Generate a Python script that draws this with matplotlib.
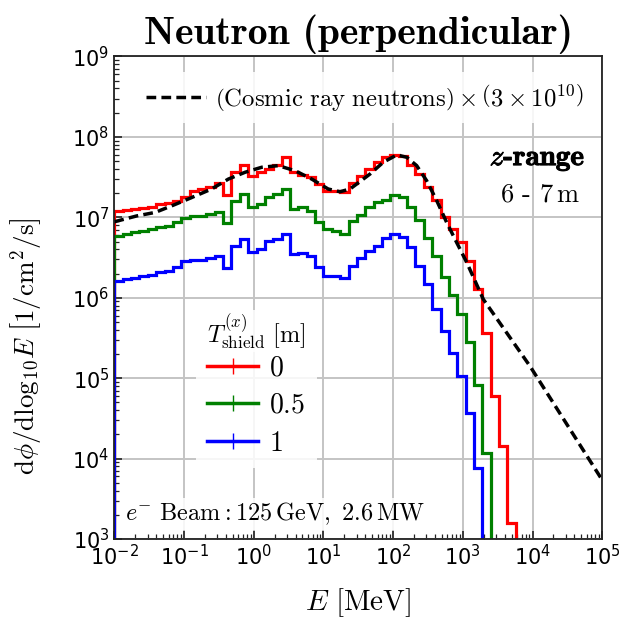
import numpy as np
import matplotlib.pyplot as plt
import matplotlib.patheffects as pe
from matplotlib.lines import Line2D
from matplotlib.font_manager import FontProperties

# log-spaced energy bins [MeV]
edges = np.logspace(-2, 4, 51)

# flux per bin, 1/cm^2/s (0 = empty bin)
flux_t0 = [1.21e7, 1.23e7, 1.27e7, 1.32e7, 1.36e7, 1.46e7, 1.50e7, 1.61e7, 1.77e7, 2.14e7,
           2.25e7, 2.38e7, 2.67e7, 1.89e7, 3.63e7, 4.48e7, 3.29e7, 3.63e7, 3.99e7, 4.48e7,
           5.58e7, 3.63e7, 3.36e7, 3.15e7, 2.59e7, 2.14e7, 2.14e7, 2.04e7, 2.67e7, 3.27e7,
           3.99e7, 4.84e7, 5.58e7, 5.97e7, 5.85e7, 4.48e7, 3.46e7, 2.41e7, 1.62e7, 1.02e7,
           7.13e6, 4.91e6, 2.87e6, 1.27e6, 3.67e5, 5.95e4, 1.42e4, 1.60e3, 0, 0]
flux_t05 = [5.88e6, 6.17e6, 6.48e6, 6.73e6, 7.13e6, 7.55e6, 7.84e6, 8.63e6, 9.77e6, 1.04e7,
            1.04e7, 1.10e7, 1.18e7, 8.47e6, 1.61e7, 1.95e7, 1.33e7, 1.46e7, 1.81e7, 1.95e7,
            2.25e7, 1.27e7, 1.33e7, 1.21e7, 8.63e6, 7.13e6, 6.79e6, 6.27e6, 8.97e6, 1.08e7,
            1.33e7, 1.53e7, 1.66e7, 1.87e7, 1.81e7, 1.36e7, 9.23e6, 5.61e6, 3.33e6, 1.82e6,
            1.07e6, 6.21e5, 2.82e5, 8.32e4, 1.17e4, 0, 0, 0, 0, 0]
flux_t1 = [1.62e6, 1.69e6, 1.78e6, 1.85e6, 1.90e6, 2.07e6, 2.15e6, 2.39e6, 2.84e6, 2.93e6,
           2.93e6, 3.10e6, 3.28e6, 2.33e6, 4.41e6, 5.42e6, 3.68e6, 4.07e6, 5.09e6, 5.42e6,
           6.27e6, 3.48e6, 3.65e6, 3.31e6, 2.43e6, 1.87e6, 1.87e6, 1.78e6, 2.48e6, 3.16e6,
           3.82e6, 4.41e6, 5.46e6, 6.18e6, 5.66e6, 4.22e6, 2.50e6, 1.47e6, 7.16e5, 3.84e5,
           2.07e5, 1.06e5, 3.72e4, 7.62e3, 0, 0, 0, 0, 0, 0]

# cosmic ray neutron spectrum (x 3e10)
cr_E = [0.01, 0.0209, 0.0384, 0.0667, 0.115, 0.249, 0.433, 0.75, 1.30, 2.25, 3.92, 6.79,
        11.7, 17.3, 24.1, 46.7, 72.3, 113, 157, 218, 303, 423, 587, 817, 1140, 1970,
        9200, 9.29e4, 1e5]
cr_flux = [8.8e6, 1.04e7, 1.15e7, 1.39e7, 1.69e7, 2.25e7, 2.99e7, 3.63e7, 4.19e7, 4.39e7,
           3.80e7, 2.99e7, 2.25e7, 2.08e7, 2.25e7, 3.46e7, 4.84e7, 5.97e7, 5.58e7, 4.39e7,
           2.85e7, 1.61e7, 8.63e6, 4.86e6, 2.74e6, 9.55e5, 1.41e5, 5.98e3, 5.5e3]

labels = ['$0$', '$0.5$', '$1$']
colors = ['red', 'green', 'blue']

plt.rcParams['mathtext.fontset'] = 'dejavusans'
plt.rcParams['xtick.labelsize'] = 15
plt.rcParams['ytick.labelsize'] = 15

fig = plt.figure(figsize=(6.2, 6.24), dpi=100)
ax = fig.add_axes([0.1844, 0.1362, 0.7869, 0.7733])

handles = []
for vals, c, lab in zip([flux_t0, flux_t05, flux_t1], colors, labels):
    v = np.array(vals, dtype=float)
    v = np.where(v > 0, v, 1e-1)
    ax.stairs(v, edges, baseline=1e-1, color=c, lw=2.3)
    handles.append(Line2D([], [], color=c, lw=2.5, marker='|', ms=11, mew=1.0, label=lab))

cr_line, = ax.plot(cr_E, cr_flux, color='black', ls=(0, (2.8, 1.5)), lw=2.5,
                   label=r'$\left(\mathrm{Cosmic\ ray\ neutrons}\right)\times\left(3\times10^{10}\right)$')

ax.set_xscale('log')
ax.set_yscale('log')
ax.set_xlim(1e-2, 1e5)
ax.set_ylim(1e3, 1e9)

ax.grid(which='major', color='#c4c4c4', lw=1.4)
ax.set_axisbelow(True)
for s in ax.spines.values():
    s.set_linewidth(1.3)
    s.set_color('#222222')
ax.tick_params(which='both', direction='in', top=False, right=False, color='#222222')
ax.tick_params(which='major', length=6, width=1.2)
ax.tick_params(which='minor', length=3.5, width=0.9)

ax.set_title('Neutron (perpendicular)', fontfamily='cmb10', fontsize=28.5, pad=9)
ax.set_xlabel(r'$E\ [\mathrm{MeV}]$', fontsize=21, math_fontfamily='cm', labelpad=12)
ax.set_ylabel(r'$\mathrm{d}\phi/\mathrm{dlog}_{10}E\ \left[1/\mathrm{cm}^2/\mathrm{s}\right]$',
              fontsize=19.5, math_fontfamily='cm')
ax.yaxis.set_label_coords(-0.145, 0.40)

leg1 = ax.legend(handles=[cr_line], loc='upper left', bbox_to_anchor=(0.045, 0.968),
                 borderaxespad=0, frameon=True, framealpha=0.85, edgecolor='none',
                 fancybox=False, handlelength=2.4, handletextpad=0.4,
                 prop=FontProperties(size=17.8, math_fontfamily='cm'))
ax.add_artist(leg1)

ax.legend(handles=handles, loc='upper left', bbox_to_anchor=(0.167, 0.408),
          borderaxespad=0, frameon=True, framealpha=0.85, edgecolor='none', fancybox=False,
          handlelength=1.85, handletextpad=0.4, labelspacing=0.35,
          prop=FontProperties(size=20, math_fontfamily='cm'))
ax.text(0.29, 0.39, r'$T^{(x)}_{\mathrm{shield}}\ [\mathrm{m}]$', transform=ax.transAxes,
        ha='center', va='bottom', fontsize=17.5, math_fontfamily='cm', zorder=6,
        bbox=dict(facecolor='white', edgecolor='none', alpha=0.85, pad=1))

ax.text(0.965, 0.785, r'$z$-range', transform=ax.transAxes, ha='right', va='center',
        fontfamily='cmb10', fontsize=21, math_fontfamily='cm',
        path_effects=[pe.withStroke(linewidth=0.7, foreground='black')])
ax.text(0.955, 0.713, r'6 - 7$\,$m', transform=ax.transAxes, ha='right', va='center',
        fontfamily='cmr10', fontsize=19, math_fontfamily='cm')
ax.text(0.022, 0.024, r'$e^{-}\ \mathrm{Beam}:125\,\mathrm{GeV},\ 2.6\,\mathrm{MW}$',
        transform=ax.transAxes, ha='left', va='bottom', fontsize=17.5, math_fontfamily='cm',
        bbox=dict(facecolor='white', edgecolor='none', alpha=0.85, pad=2))

fig.savefig('out.png', dpi=100)
